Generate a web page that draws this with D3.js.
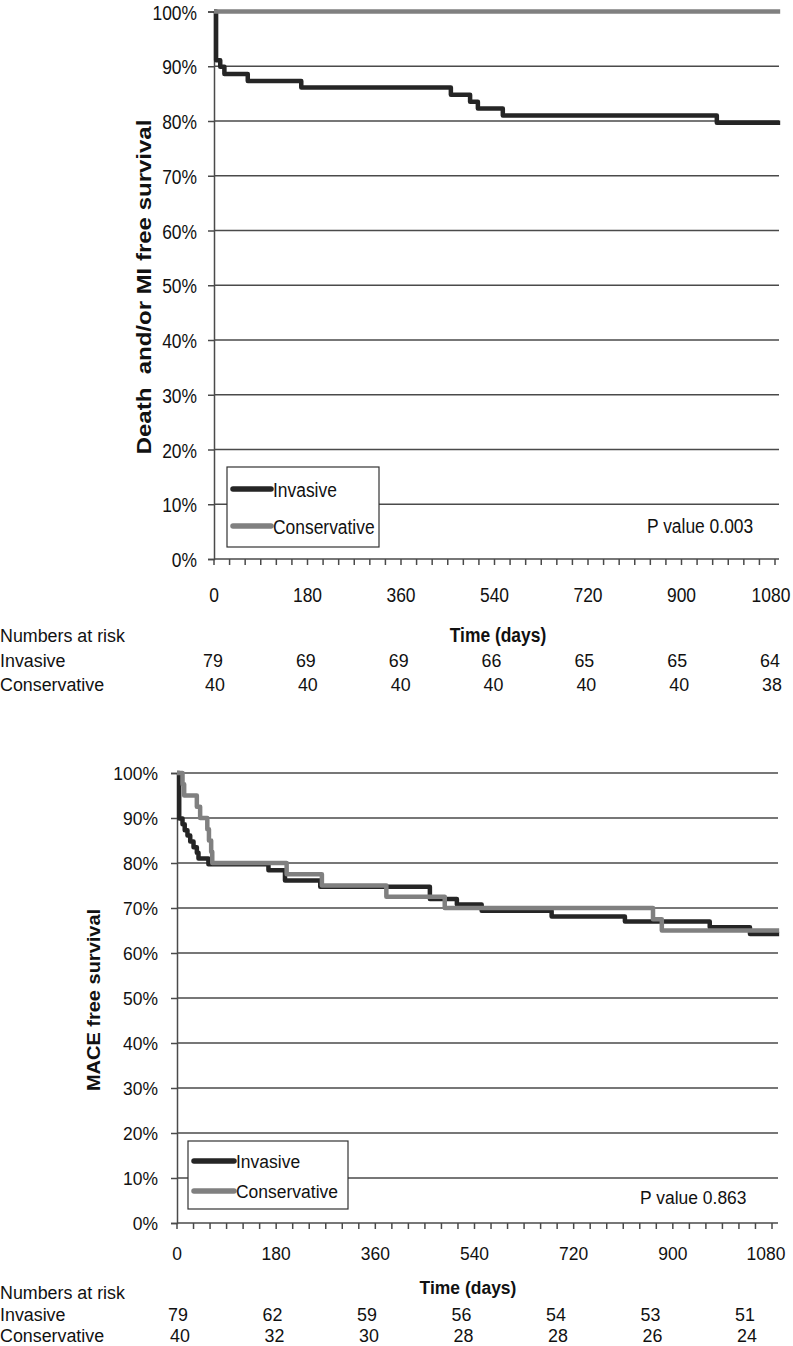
<!DOCTYPE html>
<html>
<head>
<meta charset="utf-8">
<script src="https://cdn.jsdelivr.net/npm/d3@7"></script>
<style>
  html, body { margin: 0; padding: 0; background: #fff; }
  svg { display: block; }
</style>
</head>
<body>
<svg id="chart" width="793" height="1346"></svg>
<script>
// ---------- DATA ----------
const timeTicks = [0, 180, 360, 540, 720, 900, 1080];
const pctTicks = [0, 10, 20, 30, 40, 50, 60, 70, 80, 90, 100];
const seriesNames = ["Invasive", "Conservative"];

// Top chart: Death and/or MI free survival (step points: day, survival %)
const topInvasiveDays = [0, 4, 12, 20, 65, 168, 456, 493, 508, 556, 968, 1090];
const topInvasiveSurv = [100, 91.1, 89.9, 88.6, 87.3, 86.1, 84.8, 83.5, 82.3, 81.0, 79.7, 79.7];
const topConservativeDays = [0, 1090];
const topConservativeSurv = [100, 100];
const topRiskInvasive = [79, 69, 69, 66, 65, 65, 64];
const topRiskConservative = [40, 40, 40, 40, 40, 40, 38];
const topPValue = "P value 0.003";
const topYTitle = "Death  and/or MI free survival";

// Bottom chart: MACE free survival
const botInvasiveDays = [0, 4, 10, 14, 19, 24, 30, 36, 39, 57, 166, 196, 260, 459, 508, 553, 680, 813, 967, 1040, 1093];
const botInvasiveSurv = [100, 89.9, 88.6, 87.3, 86.1, 84.8, 83.5, 82.3, 81.0, 79.7, 78.4, 76.1, 74.7, 72.0, 70.8, 69.4, 68.1, 67.0, 65.7, 64.2, 64.2];
const botConservativeDays = [0, 10, 13, 36, 42, 55, 58, 62, 64, 199, 263, 380, 486, 864, 880, 1093];
const botConservativeSurv = [100, 97.5, 95, 92.5, 90, 87.5, 85, 82.5, 80, 77.5, 75, 72.5, 70, 67.5, 65, 65];
const botRiskInvasive = [79, 62, 59, 56, 54, 53, 51];
const botRiskConservative = [40, 32, 30, 28, 28, 26, 24];
const botPValue = "P value 0.863";
const botYTitle = "MACE free survival";

const riskTitle = "Numbers at risk";
const xTitle = "Time (days)";

// ---------- STYLE ----------
const FONT = "'Liberation Sans', Arial, Helvetica, sans-serif";
const colors = { Invasive: "#252525", Conservative: "#808080" };
const gridColor = "#4a4a4a";
const textColor = "#111";

const svg = d3.select("#chart");

function zip(days, surv) { return days.map((d, i) => ({ t: d, s: surv[i] })); }

// text squeezed horizontally (the reference figure is condensed)
function txt(parent, x, y, s, o) {
  const t = parent.append("text")
    .attr("transform", `translate(${x},${y}) scale(${o.sx},1)`)
    .attr("font-family", FONT).attr("font-size", o.fs)
    .attr("text-anchor", o.anchor || "start").attr("fill", textColor)
    .text(s);
  if (o.bold) t.attr("font-weight", "bold");
  return t;
}

function drawPanel(cfg) {
  const g = svg.append("g");
  const x = d3.scaleLinear().domain([0, 1080]).range([cfg.x0, cfg.x1]);
  const y = d3.scaleLinear().domain([0, 100]).range([cfg.yBot, cfg.yTop]);
  const xr = d3.scaleLinear().domain([0, 1080]).range(cfg.riskRange);

  // horizontal gridlines
  g.append("g").selectAll("line").data(pctTicks.filter(p => p > 0)).join("line")
    .attr("x1", cfg.x0).attr("x2", cfg.gridRight)
    .attr("y1", d => y(d)).attr("y2", d => y(d))
    .attr("stroke", gridColor).attr("stroke-width", 1.5);

  // y axis
  const yAxis = d3.axisLeft(y).tickValues(pctTicks).tickSize(6).tickFormat(d => d + "%");
  const ya = g.append("g").attr("transform", `translate(${cfg.x0},0)`).call(yAxis);
  ya.select(".domain").attr("stroke", gridColor).attr("stroke-width", 1.5);
  ya.selectAll(".tick line").attr("stroke", gridColor).attr("stroke-width", 1.5);
  ya.selectAll(".tick text")
    .attr("x", null).attr("dy", null)
    .attr("transform", `translate(${-cfg.yPad},${cfg.fs * 0.36}) scale(${cfg.sx},1)`)
    .attr("font-family", FONT).attr("font-size", cfg.fs).attr("fill", textColor);

  // x axis: minor ticks every 30 days, labels every 180
  const minor = d3.range(0, 1081, 30);
  const xa = g.append("g").attr("transform", `translate(0,${cfg.yBot})`);
  xa.append("line").attr("x1", cfg.x0).attr("x2", cfg.gridRight)
    .attr("stroke", gridColor).attr("stroke-width", 1.5);
  xa.selectAll("line.mt").data(minor).join("line").attr("class", "mt")
    .attr("x1", d => x(d)).attr("x2", d => x(d)).attr("y1", 0).attr("y2", 6)
    .attr("stroke", gridColor).attr("stroke-width", 1.5);
  timeTicks.forEach((d, i) => {
    const last = i === timeTicks.length - 1;
    txt(xa, x(d) - (last ? cfg.lastShift : 0), cfg.xLabelDy, d, { fs: cfg.fs, sx: cfg.sx, anchor: "middle" });
  });

  // curves
  const line = d3.line().x(d => x(d.t)).y(d => y(d.s)).curve(d3.curveStepAfter);
  [["Invasive", cfg.inv], ["Conservative", cfg.con]].forEach(([name, data]) => {
    g.append("path").datum(data).attr("d", line).attr("fill", "none")
      .attr("stroke", colors[name]).attr("stroke-width", 4.5)
      .attr("stroke-linejoin", "round");
  });

  // legend
  const lg = g.append("g");
  lg.append("rect").attr("x", cfg.legend.x).attr("y", cfg.legend.y)
    .attr("width", cfg.legend.w).attr("height", cfg.legend.h)
    .attr("fill", "#fff").attr("stroke", "#333").attr("stroke-width", 1.2);
  seriesNames.forEach((name, i) => {
    const ly = cfg.legend.y + cfg.legend.rows[i];
    lg.append("line").attr("x1", cfg.legend.x + 6).attr("x2", cfg.legend.x + cfg.legend.lineW)
      .attr("y1", ly).attr("y2", ly).attr("stroke", colors[name])
      .attr("stroke-width", 5.5).attr("stroke-linecap", "round");
    txt(lg, cfg.legend.x + cfg.legend.lineW + 2, ly + cfg.fs * 0.36, name, { fs: cfg.fs, sx: cfg.sx });
  });

  // p value
  txt(g, cfg.pv.x, cfg.pv.y, cfg.pText, { fs: cfg.fs, sx: cfg.sx });

  // y title (rotated; glyph height condensed)
  g.append("text")
    .attr("transform", `translate(${cfg.yTitle.x},${cfg.yTitle.y}) rotate(-90) scale(1,${cfg.yTitle.s})`)
    .attr("text-anchor", "middle").attr("font-family", FONT)
    .attr("font-weight", "bold").attr("font-size", cfg.yTitle.fs).attr("fill", textColor)
    .style("white-space", "pre").text(cfg.yTitleText);

  // x title
  txt(g, cfg.xTitle.x, cfg.xTitle.y, xTitle, { fs: cfg.xTitle.fs, sx: cfg.xTitle.sx, anchor: "middle", bold: true });

  // risk table
  const rt = g.append("g");
  const ro = { fs: 19, sx: 0.94 };
  txt(rt, 0, cfg.risk.y0, riskTitle, ro);
  txt(rt, 0, cfg.risk.y1, seriesNames[0], ro);
  txt(rt, 0, cfg.risk.y2, seriesNames[1], ro);
  cfg.riskInv.forEach((d, i) => txt(rt, xr(timeTicks[i]), cfg.risk.y1, d, { ...ro, anchor: "middle" }));
  cfg.riskCon.forEach((d, i) => txt(rt, xr(timeTicks[i]) + 2, cfg.risk.y2, d, { ...ro, anchor: "middle" }));
}

drawPanel({
  x0: 214, x1: 775, yTop: 11.5, yBot: 559, gridRight: 779, fs: 21, sx: 0.83, yPad: 17,
  xLabelDy: 43, lastShift: 4,
  riskRange: [213, 770],
  inv: zip(topInvasiveDays, topInvasiveSurv), con: zip(topConservativeDays, topConservativeSurv),
  legend: { x: 227, y: 467, w: 152, h: 80, rows: [22, 59], lineW: 44 },
  pv: { x: 647, y: 533 }, pText: topPValue,
  yTitle: { x: 151, y: 287, fs: 24, s: 0.83 }, yTitleText: topYTitle,
  xTitle: { x: 498, y: 642, fs: 21, sx: 0.83 },
  risk: { y0: 642, y1: 667, y2: 691 },
  riskInv: topRiskInvasive, riskCon: topRiskConservative
});

drawPanel({
  x0: 177, x1: 772, yTop: 773, yBot: 1223, gridRight: 778, fs: 19, sx: 0.92, yPad: 19,
  xLabelDy: 37, lastShift: 6,
  riskRange: [178, 745],
  inv: zip(botInvasiveDays, botInvasiveSurv), con: zip(botConservativeDays, botConservativeSurv),
  legend: { x: 188, y: 1141, w: 160, h: 68, rows: [20, 50], lineW: 46 },
  pv: { x: 640, y: 1204 }, pText: botPValue,
  yTitle: { x: 100, y: 1000, fs: 20, s: 0.92 }, yTitleText: botYTitle,
  xTitle: { x: 468, y: 1294, fs: 19, sx: 0.92 },
  risk: { y0: 1299, y1: 1321, y2: 1342 },
  riskInv: botRiskInvasive, riskCon: botRiskConservative
});
</script>
</body>
</html>
